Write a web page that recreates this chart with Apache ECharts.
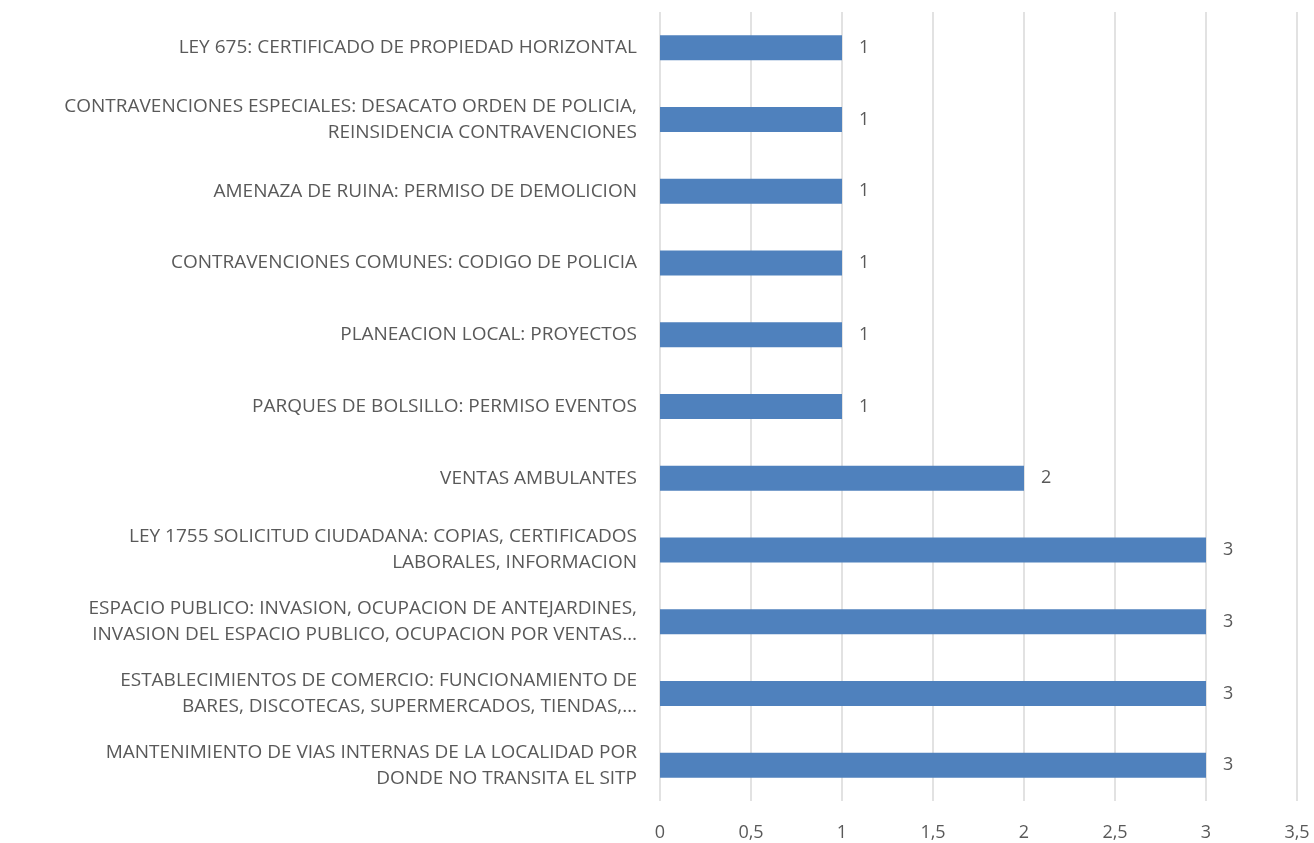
<!DOCTYPE html>
<html lang="es">
<head>
    <meta charset="UTF-8">
    <title>Solicitudes por tema</title>
    <style>
        body, html {
            margin: 0;
            width: 100%;
            height: 100%;
            background: #fff;
        }

        #main {
            width: 1314px;
            height: 843px;
        }
    </style>
</head>
<body>
<div id="main"></div>
<script src="https://cdn.jsdelivr.net/npm/echarts@6/dist/echarts.min.js"></script>
<script>
    // categorias de arriba hacia abajo
    let categories = [
        'LEY 675: CERTIFICADO DE PROPIEDAD HORIZONTAL',
        'CONTRAVENCIONES ESPECIALES: DESACATO ORDEN DE POLICIA,\nREINSIDENCIA CONTRAVENCIONES',
        'AMENAZA DE RUINA: PERMISO DE DEMOLICION',
        'CONTRAVENCIONES COMUNES: CODIGO DE POLICIA',
        'PLANEACION LOCAL: PROYECTOS',
        'PARQUES DE BOLSILLO: PERMISO EVENTOS',
        'VENTAS AMBULANTES',
        'LEY 1755 SOLICITUD CIUDADANA: COPIAS, CERTIFICADOS\nLABORALES, INFORMACION',
        'ESPACIO PUBLICO: INVASION, OCUPACION DE ANTEJARDINES,\nINVASION DEL ESPACIO PUBLICO, OCUPACION POR VENTAS…',
        'ESTABLECIMIENTOS DE COMERCIO: FUNCIONAMIENTO DE\nBARES, DISCOTECAS, SUPERMERCADOS, TIENDAS,…',
        'MANTENIMIENTO DE VIAS INTERNAS DE LA LOCALIDAD POR\nDONDE NO TRANSITA EL SITP'
    ];
    let values = [1, 1, 1, 1, 1, 1, 2, 3, 3, 3, 3];

    let textColor = '#595959';
    let font = '"Open Sans", "Liberation Sans", Arial, sans-serif';

    let myChart = echarts.init(document.getElementById('main'));
    let option = {
        animation: false,
        grid: {
            left: 660,
            right: 17,
            top: 12,
            bottom: 42,
            containLabel: false
        },
        xAxis: {
            type: 'value',
            min: 0,
            max: 3.5,
            interval: 0.5,
            axisLine: {show: false},
            axisTick: {show: false},
            splitLine: {lineStyle: {color: '#d9d9d9', width: 1.5}},
            axisLabel: {
                color: textColor,
                fontFamily: font,
                fontSize: 18,
                margin: 23,
                formatter: function (v) {
                    return String(v).replace('.', ',');
                }
            }
        },
        yAxis: {
            type: 'category',
            inverse: true,
            data: categories,
            axisLine: {show: false},
            axisTick: {show: false},
            axisLabel: {
                color: textColor,
                fontFamily: font,
                fontSize: 19,
                lineHeight: 26,
                align: 'right',
                margin: 23
            }
        },
        series: [
            {
                type: 'bar',
                data: values,
                barWidth: 25,
                itemStyle: {color: '#4f81bd'},
                label: {
                    show: true,
                    position: 'right',
                    distance: 17,
                    color: textColor,
                    fontFamily: font,
                    fontSize: 18
                }
            }
        ]
    };

    myChart.setOption(option);
</script>
</body>
</html>
